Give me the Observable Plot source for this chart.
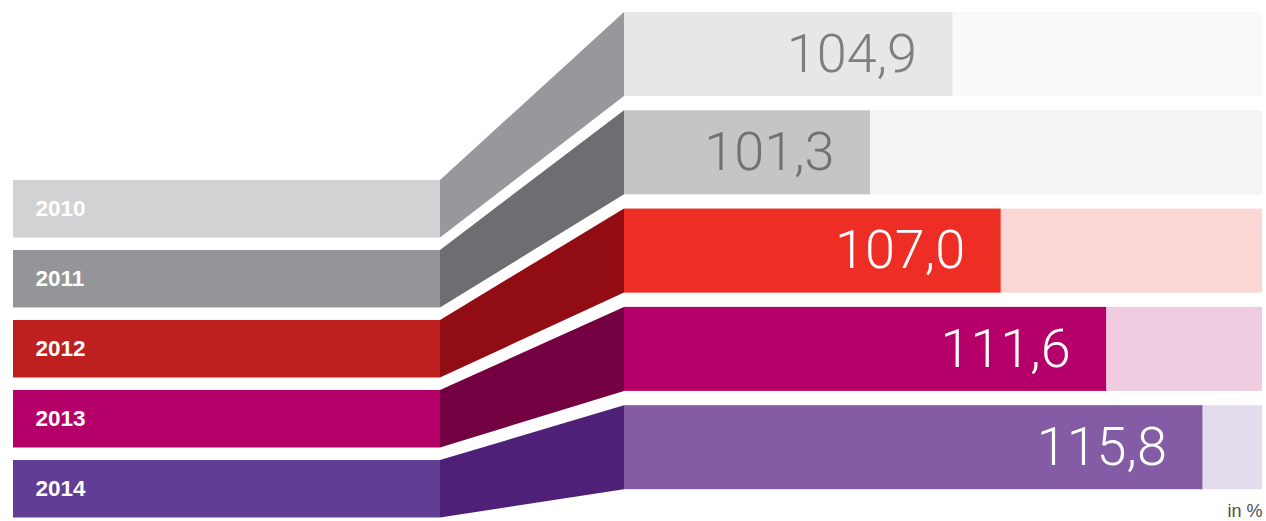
<!DOCTYPE html>
<html>
<head>
<meta charset="utf-8">
<script src="https://cdn.jsdelivr.net/npm/d3@7"></script>
<script src="https://cdn.jsdelivr.net/npm/@observablehq/plot@0.6"></script>
<style>
  html, body { margin: 0; padding: 0; background: #fff; }
  #chart svg { display: block; }
</style>
</head>
<body>
<div id="chart"></div>
<script>
// ---- data ----
const years = ["2010", "2011", "2012", "2013", "2014"];
const values = [104.9, 101.3, 107.0, 111.6, 115.8];
const valueLabels = ["104,9", "101,3", "107,0", "111,6", "115,8"];
const unitLabel = "in %";

// ---- colours ----
const leftColors  = ["#d1d2d4", "#939598", "#be201f", "#b5006a", "#613d96"];
const joinColors  = ["#97989b", "#6d6e71", "#920c14", "#730040", "#4e2078"];
const barColors   = ["#e6e7e9", "#c4c5c7", "#ee2e24", "#b5006a", "#845ba5"];
const trackColors = ["#f9f9f9", "#f3f4f4", "#fad7d5", "#f0cce0", "#e4dcec"];
const textColors  = ["#7d7e80", "#707173", "#ffffff", "#ffffff", "#ffffff"];

// ---- layout ----
const W = 1266, H = 521;
const X0 = 90.57, X1 = 118.4;          // value domain of the right-hand bars
const barLeftPx = 624, barRightPx = 1262;
const k = (barRightPx - barLeftPx) / (X1 - X0);
const inv = px => X0 + (px - barLeftPx) / k; // pixel -> value units
const xMin = inv(0), xMax = inv(W);

const rightTop = i => 12 + 98.3 * i, rightH = 84;
const leftTop = i => 180 + 70 * i, leftH = 57.5;
const leftStartPx = 13, leftEndPx = 440;

const rows = years.map((year, i) => ({
  year, i, value: values[i], label: valueLabels[i],
  rTop: rightTop(i), rBot: rightTop(i) + rightH,
  lTop: leftTop(i), lBot: leftTop(i) + leftH
}));

const joins = rows.flatMap(r => [
  {year: r.year, i: r.i, x: inv(leftEndPx), y1: r.lTop, y2: r.lBot},
  {year: r.year, i: r.i, x: X0, y1: r.rTop, y2: r.rBot}
]);

const chart = Plot.plot({
  width: W,
  height: H,
  margin: 0,
  style: {background: "#ffffff", fontFamily: "'Liberation Sans', Arial, sans-serif"},
  x: {type: "linear", domain: [xMin, xMax], range: [0, W], axis: null},
  y: {type: "linear", domain: [0, H], range: [0, H], axis: null},
  marks: [
    // background tracks
    Plot.rect(rows, {x1: X0, x2: X1, y1: "rTop", y2: "rBot", fill: d => trackColors[d.i]}),
    // value bars
    Plot.rect(rows, {x1: X0, x2: "value", y1: "rTop", y2: "rBot", fill: d => barColors[d.i]}),
    // connectors
    Plot.areaY(joins, {x: "x", y1: "y1", y2: "y2", z: "year", fill: d => joinColors[d.i], curve: "linear"}),
    // left year bars
    Plot.rect(rows, {x1: inv(leftStartPx), x2: inv(leftEndPx), y1: "lTop", y2: "lBot", fill: d => leftColors[d.i]}),
    // year labels
    Plot.text(rows, {
      x: inv(35), y: d => (d.lTop + d.lBot) / 2, text: "year",
      textAnchor: "start", fill: "#ffffff", fontSize: 22.5, fontWeight: "bold"
    }),
    // value labels
    Plot.text(rows, {
      x: "value", y: d => (d.rTop + d.rBot) / 2, text: "label", dx: -36,
      textAnchor: "end", fill: d => textColors[d.i], fontSize: 54, fontWeight: 300,
      fontFamily: "Roboto, 'Liberation Sans', sans-serif"
    }),
    // unit
    Plot.text([unitLabel], {
      x: X1, y: 511, text: d => d, textAnchor: "end", fill: "#4d4d4d", fontSize: 18,
      fontFamily: "'Liberation Sans', Arial, sans-serif"
    })
  ]
});

document.getElementById("chart").append(chart);
</script>
</body>
</html>
